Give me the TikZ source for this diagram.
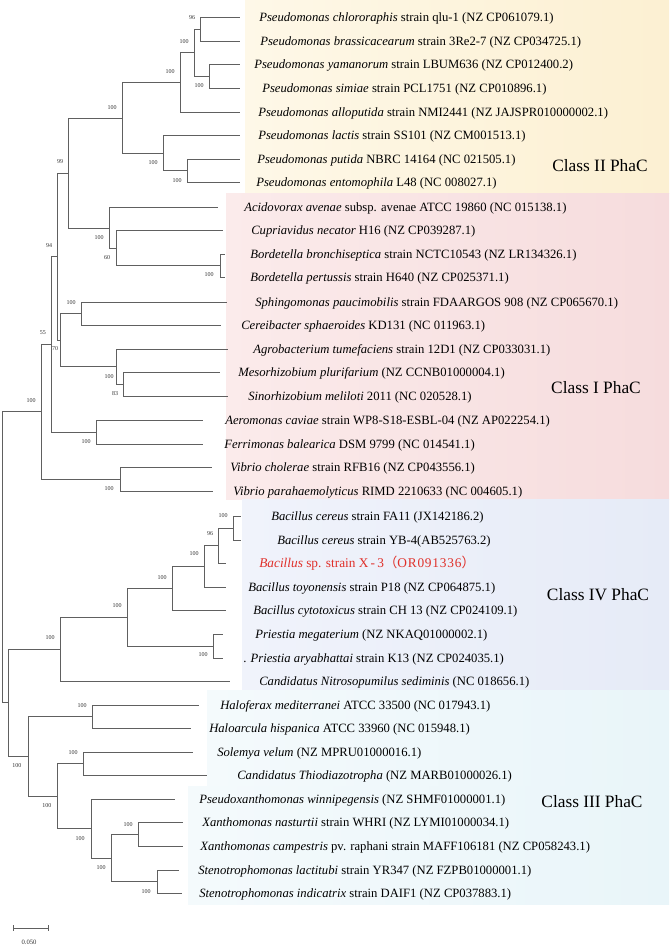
\documentclass[tikz,border=0pt]{standalone}
\usepackage{fontspec}
\setmainfont{Liberation Serif}
\newfontfamily\cjk{Noto Sans CJK SC}
\definecolor{treegray}{HTML}{606060}
\definecolor{bootgray}{HTML}{333333}
\definecolor{redtxt}{HTML}{E0302A}
\definecolor{yelL}{HTML}{FEF8E8}
\definecolor{yelR}{HTML}{FCF0D2}
\definecolor{pinL}{HTML}{FBEBEB}
\definecolor{pinR}{HTML}{F6DCDD}
\definecolor{bluL}{HTML}{F0F3FB}
\definecolor{bluR}{HTML}{E6EBF7}
\definecolor{cyaL}{HTML}{F4FAFC}
\definecolor{cyaR}{HTML}{E9F5F9}
\tikzset{
  br/.style={draw=treegray, line width=0.7pt},
  leaf/.style={anchor=base west, inner sep=0pt, font=\fontsize{9.5}{11}\selectfont},
  boot/.style={font=\fontsize{4.5}{5}\selectfont, inner sep=0pt, text=bootgray},
  cls/.style={font=\fontsize{13}{15}\selectfont, inner sep=0pt},
}
\begin{document}
\begin{tikzpicture}[x=0.75pt, y=-0.75pt]
\useasboundingbox (0,0) rectangle (669,947);
\fill[white] (0,0) rectangle (669,947);
% class backgrounds
\shade[left color=yelL, right color=yelR] (245,0) rectangle (669,193);
\shade[left color=pinL, right color=pinR] (226,193) rectangle (669,499);
\shade[left color=bluL, right color=bluR] (242,499) rectangle (669,690);
\shade[left color=cyaL, right color=cyaR] (207,690) rectangle (669,786);
\shade[left color=cyaL, right color=cyaR] (188,786) rectangle (669,904);
% leaf ends
\coordinate (l1) at (240,17);
\coordinate (l2) at (240,41);
\coordinate (l3) at (240,64);
\coordinate (l4) at (240,88);
\coordinate (l5) at (240,112);
\coordinate (l6) at (240,135);
\coordinate (l7) at (240,159);
\coordinate (l8) at (240,182);
\coordinate (l9) at (218,207);
\coordinate (l10) at (223,230);
\coordinate (l11) at (225,254);
\coordinate (l12) at (225,277);
\coordinate (l13) at (227,302);
\coordinate (l14) at (221,325);
\coordinate (l15) at (228,349);
\coordinate (l16) at (220,372);
\coordinate (l17) at (228,396);
\coordinate (l18) at (203,420);
\coordinate (l19) at (203,444);
\coordinate (l20) at (212,467);
\coordinate (l21) at (213,491);
\coordinate (l22) at (241,516);
\coordinate (l23) at (241,540);
\coordinate (l24) at (226,563);
\coordinate (l25) at (226,587);
\coordinate (l26) at (226,610);
\coordinate (l27) at (223,634);
\coordinate (l28) at (223,658);
\coordinate (l29) at (230,681);
\coordinate (l30) at (199,705);
\coordinate (l31) at (191,728);
\coordinate (l32) at (193,752);
\coordinate (l33) at (207,775);
\coordinate (l34) at (175,799);
\coordinate (l35) at (183,822);
\coordinate (l36) at (183,846);
\coordinate (l37) at (179,870);
\coordinate (l38) at (182,893);
% internal nodes
\coordinate (n12) at (200,29);
\coordinate (n34) at (209,76);
\coordinate (nA) at (194,52.5);
\coordinate (nB) at (180,82);
\coordinate (n78) at (187,170.5);
\coordinate (nD) at (163,153);
\coordinate (nC) at (122,118);
\coordinate (nH) at (220,265.5);
\coordinate (nG) at (116,248);
\coordinate (nF) at (109,228);
\coordinate (nE) at (68,173);
\coordinate (nJ) at (81,313.5);
\coordinate (nM) at (123,384);
\coordinate (nK) at (116,366.5);
\coordinate (nL) at (60,340);
\coordinate (nI) at (57.5,256.5);
\coordinate (nN) at (96,432);
\coordinate (nP) at (51,344);
\coordinate (nQ) at (120,479);
\coordinate (nR) at (41,411.5);
\coordinate (root) at (2,557);
\coordinate (nZ) at (233,528);
\coordinate (nY) at (218,545.5);
\coordinate (nX) at (204,566);
\coordinate (nW) at (172,588);
\coordinate (nV) at (213,646);
\coordinate (nU) at (127,617);
\coordinate (nT) at (60,649);
\coordinate (nCC) at (92,716.5);
\coordinate (nEE) at (83,763.5);
\coordinate (nHH) at (138,834);
\coordinate (nII) at (157,881.5);
\coordinate (nGG) at (111,858);
\coordinate (nFF) at (91,828.5);
\coordinate (nDD) at (57,796);
\coordinate (nBB) at (28,756);
\coordinate (nAA) at (8,702.5);
% branches
\foreach \p/\c in {n12/l1, n12/l2, n34/l3, n34/l4, nA/n12, nA/n34, nB/nA, nB/l5,
  n78/l7, n78/l8, nD/l6, nD/n78, nC/nB, nC/nD, nH/l11, nH/l12, nG/l10, nG/nH,
  nF/l9, nF/nG, nE/nC, nE/nF, nJ/l13, nJ/l14, nM/l16, nM/l17, nK/l15, nK/nM,
  nL/nJ, nL/nK, nI/nE, nI/nL, nN/l18, nN/l19, nP/nI, nP/nN, nQ/l20, nQ/l21,
  nR/nP, nR/nQ, root/nR, root/nAA, nZ/l22, nZ/l23, nY/nZ, nY/l24, nX/nY, nX/l25,
  nW/nX, nW/l26, nV/l27, nV/l28, nU/nW, nU/nV, nT/nU, nT/l29, nCC/l30, nCC/l31,
  nEE/l32, nEE/l33, nHH/l35, nHH/l36, nII/l37, nII/l38, nGG/nHH, nGG/nII,
  nFF/l34, nFF/nGG, nDD/nEE, nDD/nFF, nBB/nCC, nBB/nDD, nAA/nT, nAA/nBB}
  \draw[br] (\p) |- (\c);
% bootstrap values
\node[boot] (b1) at (192,18) {96};
\node[boot] (b2) at (199,86) {100};
\node[boot] (b3) at (184,42) {100};
\node[boot] (b4) at (170,72) {100};
\node[boot] (b5) at (177,181) {100};
\node[boot] (b6) at (153,163) {100};
\node[boot] (b7) at (112,108) {100};
\node[boot] (b8) at (209,275) {100};
\node[boot] (b9) at (107,258) {60};
\node[boot] (b10) at (99,238) {100};
\node[boot] (b11) at (60,162) {99};
\node[boot] (b12) at (71,303) {100};
\node[boot] (b13) at (115,394) {83};
\node[boot] (b14) at (109,377) {100};
\node[boot] (b15) at (55,349) {70};
\node[boot] (b16) at (49,246) {94};
\node[boot] (b17) at (86,442) {100};
\node[boot] (b18) at (43,333) {55};
\node[boot] (b19) at (109,489) {100};
\node[boot] (b20) at (31,401) {100};
\node[boot] (b21) at (223,516) {100};
\node[boot] (b22) at (210,534) {96};
\node[boot] (b23) at (194,554) {100};
\node[boot] (b24) at (162,578) {100};
\node[boot] (b25) at (203,655) {100};
\node[boot] (b26) at (117,606) {100};
\node[boot] (b27) at (50,638) {100};
\node[boot] (b28) at (82,706) {100};
\node[boot] (b29) at (73,753) {100};
\node[boot] (b30) at (128,825) {100};
\node[boot] (b31) at (146,892) {100};
\node[boot] (b32) at (101,868) {100};
\node[boot] (b33) at (80,839) {100};
\node[boot] (b34) at (47,806) {100};
\node[boot] (b35) at (17,766) {100};
% leaf labels
\node[leaf] (t1) at (259,21) {\textit{Pseudomonas chlororaphis} strain qlu-1 (NZ CP061079.1)};
\node[leaf] (t2) at (260,45) {\textit{Pseudomonas brassicacearum} strain 3Re2-7 (NZ CP034725.1)};
\node[leaf] (t3) at (254,68) {\textit{Pseudomonas yamanorum} strain LBUM636 (NZ CP012400.2)};
\node[leaf] (t4) at (262,92) {\textit{Pseudomonas simiae} strain PCL1751 (NZ CP010896.1)};
\node[leaf] (t5) at (258,116) {\textit{Pseudomonas alloputida} strain NMI2441 (NZ JAJSPR010000002.1)};
\node[leaf] (t6) at (258,139) {\textit{Pseudomonas lactis} strain SS101 (NZ CM001513.1)};
\node[leaf] (t7) at (257,163) {\textit{Pseudomonas putida} NBRC 14164 (NC 021505.1)};
\node[leaf] (t8) at (256,186) {\textit{Pseudomonas entomophila} L48 (NC 008027.1)};
\node[leaf] (t9) at (244,211) {\textit{Acidovorax avenae} subsp. avenae ATCC 19860 (NC 015138.1)};
\node[leaf] (t10) at (251,234) {\textit{Cupriavidus necator} H16 (NZ CP039287.1)};
\node[leaf] (t11) at (250,258) {\textit{Bordetella bronchiseptica} strain NCTC10543 (NZ LR134326.1)};
\node[leaf] (t12) at (250,281) {\textit{Bordetella pertussis} strain H640 (NZ CP025371.1)};
\node[leaf] (t13) at (255,306) {\textit{Sphingomonas paucimobilis} strain FDAARGOS 908 (NZ CP065670.1)};
\node[leaf] (t14) at (241,329) {\textit{Cereibacter sphaeroides} KD131 (NC 011963.1)};
\node[leaf] (t15) at (253,353) {\textit{Agrobacterium tumefaciens} strain 12D1 (NZ CP033031.1)};
\node[leaf] (t16) at (238,376) {\textit{Mesorhizobium plurifarium} (NZ CCNB01000004.1)};
\node[leaf] (t17) at (248,400) {\textit{Sinorhizobium meliloti} 2011 (NC 020528.1)};
\node[leaf] (t18) at (225,424) {\textit{Aeromonas caviae} strain WP8-S18-ESBL-04 (NZ AP022254.1)};
\node[leaf] (t19) at (224,448) {\textit{Ferrimonas balearica} DSM 9799 (NC 014541.1)};
\node[leaf] (t20) at (230,471) {\textit{Vibrio cholerae} strain RFB16 (NZ CP043556.1)};
\node[leaf] (t21) at (233,495) {\textit{Vibrio parahaemolyticus} RIMD 2210633 (NC 004605.1)};
\node[leaf] (t22) at (271,520) {\textit{Bacillus cereus} strain FA11 (JX142186.2)};
\node[leaf] (t23) at (277,544) {\textit{Bacillus cereus} strain YB-4(AB525763.2)};
\node[leaf, text=redtxt, font=\fontsize{10}{11}\selectfont] (t24) at (259,567) {\textit{Bacillus} sp. strain X\,-\,3{\cjk （}{\addfontfeature{LetterSpace=6}OR091336}{\cjk ）}};
\node[leaf] (t25) at (248,591) {\textit{Bacillus toyonensis} strain P18 (NZ CP064875.1)};
\node[leaf] (t26) at (253,614) {\textit{Bacillus cytotoxicus} strain CH 13 (NZ CP024109.1)};
\node[leaf] (t27) at (255,638) {\textit{Priestia megaterium} (NZ NKAQ01000002.1)};
\node[leaf] (t28) at (243,662) {. \textit{Priestia aryabhattai} strain K13 (NZ CP024035.1)};
\node[leaf] (t29) at (259,685) {\textit{Candidatus Nitrosopumilus sediminis} (NC 018656.1)};
\node[leaf] (t30) at (220,709) {\textit{Haloferax mediterranei} ATCC 33500 (NC 017943.1)};
\node[leaf] (t31) at (209,732) {\textit{Haloarcula hispanica} ATCC 33960 (NC 015948.1)};
\node[leaf] (t32) at (217,756) {\textit{Solemya velum} (NZ MPRU01000016.1)};
\node[leaf] (t33) at (237,779) {\textit{Candidatus Thiodiazotropha} (NZ MARB01000026.1)};
\node[leaf] (t34) at (199,803) {\textit{Pseudoxanthomonas winnipegensis} (NZ SHMF01000001.1)};
\node[leaf] (t35) at (202,826) {\textit{Xanthomonas nasturtii} strain WHRI (NZ LYMI01000034.1)};
\node[leaf] (t36) at (200,850) {\textit{Xanthomonas campestris} pv. raphani strain MAFF106181 (NZ CP058243.1)};
\node[leaf] (t37) at (198,874) {\textit{Stenotrophomonas lactitubi} strain YR347 (NZ FZPB01000001.1)};
\node[leaf] (t38) at (199,897) {\textit{Stenotrophomonas indicatrix} strain DAIF1 (NZ CP037883.1)};
% class labels
\node[cls] (c2) at (600,166) {Class II PhaC};
\node[cls] (c1) at (596,388) {Class I PhaC};
\node[cls] (c4) at (598,595) {Class IV PhaC};
\node[cls] (c3) at (592,802) {Class III PhaC};
% scale bar
\coordinate (s1) at (13,928);
\coordinate (s2) at (48,928);
\draw[br, line width=0.6pt] ([yshift=2pt]s1) -- ([yshift=-2pt]s1) (s1) -- (s2) ([yshift=2pt]s2) -- ([yshift=-2pt]s2);
\node[boot, font=\fontsize{5}{6}\selectfont] (sl) at (29,942) {0.050};
\end{tikzpicture}
\end{document}
